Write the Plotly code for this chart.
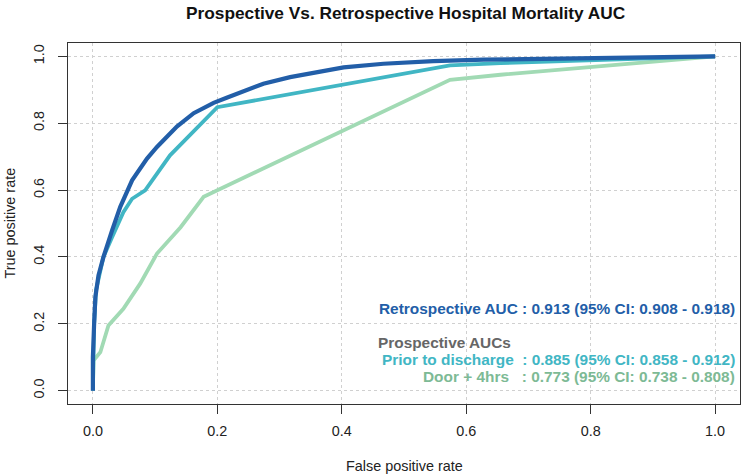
import plotly.graph_objects as go

# ---- data ----
retro_fpr = [0, 0.0, 0.002, 0.004, 0.009, 0.017, 0.031, 0.044, 0.063, 0.087, 0.103, 0.12, 0.135,
             0.162, 0.194, 0.215, 0.237, 0.274, 0.317, 0.36, 0.403, 0.467, 0.547, 0.628, 0.75, 0.87, 1.0]
retro_tpr = [0, 0.10, 0.20, 0.28, 0.345, 0.40, 0.48, 0.55, 0.629, 0.694, 0.729, 0.76, 0.79,
             0.83, 0.861, 0.876, 0.892, 0.918, 0.938, 0.953, 0.967, 0.978, 0.986, 0.990, 0.994, 0.997, 1.0]

prior_fpr = [0, 0.002, 0.005, 0.017, 0.031, 0.049, 0.063, 0.084, 0.124, 0.2, 0.574, 0.655, 1.0]
prior_tpr = [0, 0.20, 0.30, 0.40, 0.46, 0.534, 0.574, 0.599, 0.704, 0.848, 0.973, 0.98, 1.0]

door_fpr = [0, 0.001, 0.012, 0.025, 0.049, 0.076, 0.103, 0.141, 0.178, 0.574, 0.655, 1.0]
door_tpr = [0, 0.09, 0.115, 0.195, 0.245, 0.32, 0.41, 0.489, 0.58, 0.93, 0.945, 1.0]

tick_vals = [0, 0.2, 0.4, 0.6, 0.8, 1.0]
tick_text = ["0.0", "0.2", "0.4", "0.6", "0.8", "1.0"]

title_text = "Prospective Vs. Retrospective Hospital Mortality AUC"
x_title = "False positive rate"
y_title = "True positive rate"
retro_label = "Retrospective AUC : 0.913 (95% CI: 0.908 - 0.918)"
prosp_header = "Prospective AUCs"
prior_label = "Prior to discharge  : 0.885 (95% CI: 0.858 - 0.912)"
door_label = "Door + 4hrs   : 0.773 (95% CI: 0.738 - 0.808)"

C_RETRO = "#225EA8"
C_PRIOR = "#41B6C4"
C_DOOR = "#A1DAB4"
C_DOOR_TXT = "#7DBA95"
C_GRAY = "#666666"

FONT = "Liberation Sans, Arial, sans-serif"

fig = go.Figure()
fig.add_trace(go.Scatter(x=door_fpr, y=door_tpr, mode="lines",
                         line=dict(color=C_DOOR, width=3.8), showlegend=False))
fig.add_trace(go.Scatter(x=prior_fpr, y=prior_tpr, mode="lines",
                         line=dict(color=C_PRIOR, width=3.8), showlegend=False))
fig.add_trace(go.Scatter(x=retro_fpr, y=retro_tpr, mode="lines",
                         line=dict(color=C_RETRO, width=4.2), showlegend=False))

axis_common = dict(
    range=[-0.04, 1.04], tickvals=tick_vals, ticktext=tick_text,
    showgrid=True, gridcolor="#d0d0d0", griddash="dot", gridwidth=1,
    zeroline=False, showline=True, mirror=True, linecolor="#333333", linewidth=1.2,
    ticks="outside", ticklen=9, tickcolor="#333333", tickwidth=1,
    tickfont=dict(family=FONT, size=14.4, color="#222222"),
)
fig.update_xaxes(**axis_common, ticklabelstandoff=5)
fig.update_yaxes(**axis_common, tickangle=-90, ticklabelstandoff=8)

def py(p):
    return (404 - p) / 361.0

def px(p):
    return (p - 68) / 672.0

ann = [
    dict(text="<b>%s</b>" % title_text, x=px(405.5), y=py(13), font=dict(size=17.3, color="#111111"),
         xanchor="center", yanchor="middle"),
    dict(text=x_title, x=px(404), y=py(466), font=dict(size=14.4, color="#222222"),
         xanchor="center", yanchor="middle"),
    dict(text=y_title, x=px(9), y=py(223.5), textangle=-90, font=dict(size=14.4, color="#222222"),
         xanchor="center", yanchor="middle"),
    dict(text="<b>%s</b>" % retro_label, x=px(737), y=py(308), font=dict(size=15.4, color=C_RETRO),
         xanchor="right", yanchor="middle"),
    dict(text="<b>%s</b>" % prosp_header, x=px(376), y=py(342), font=dict(size=15.4, color=C_GRAY),
         xanchor="left", yanchor="middle"),
    dict(text="<b>%s</b>" % prior_label.replace("  ", "&nbsp;&nbsp;"), x=px(737), y=py(359),
         font=dict(size=15.4, color=C_PRIOR), xanchor="right", yanchor="middle"),
    dict(text="<b>%s</b>" % door_label.replace("   ", "&nbsp;&nbsp;&nbsp;"), x=px(737), y=py(376),
         font=dict(size=15.4, color=C_DOOR_TXT), xanchor="right", yanchor="middle"),
]
for a in ann:
    a.update(xref="paper", yref="paper", showarrow=False, font_family=FONT)
    fig.add_annotation(**a)

fig.update_layout(
    width=743, height=475,
    margin=dict(l=68, r=3, t=43, b=71),
    paper_bgcolor="white", plot_bgcolor="white",
    font=dict(family=FONT),
    showlegend=False,
)

fig.write_html("out.html", config={"displayModeBar": False},
               post_script="document.body.style.margin='0px';document.body.style.overflow='hidden';")
